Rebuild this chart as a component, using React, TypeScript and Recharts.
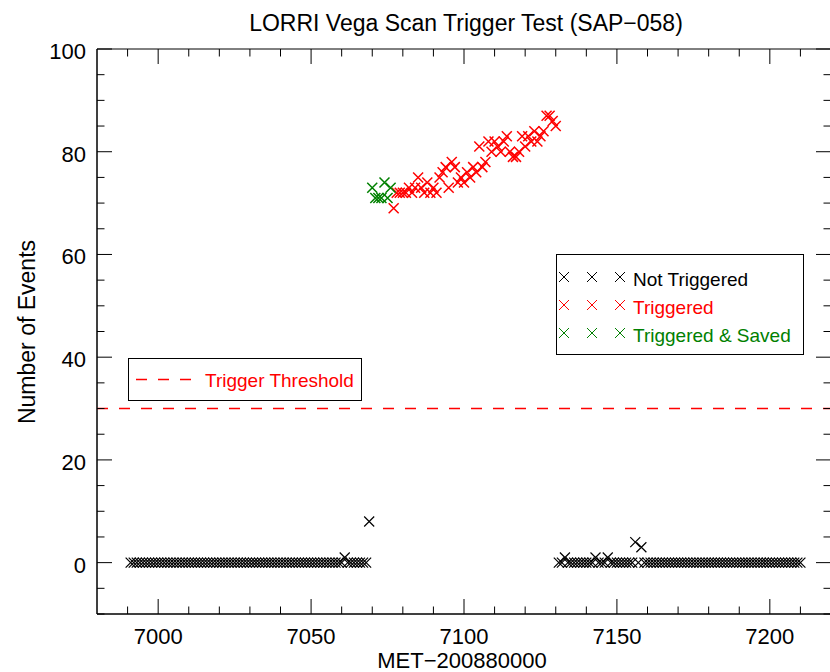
import React from "react";
import { ScatterChart, Scatter, XAxis, YAxis, ReferenceLine, ReferenceArea } from "recharts";

// MET-200880000 (s) and event counts
const notTrigTimes = [
  6991, 6992, 6993, 6994, 6995, 6996, 6997, 6998, 6999, 7000,
  7001, 7002, 7003, 7004, 7005, 7006, 7007, 7008, 7009, 7010,
  7011, 7012, 7013, 7014, 7015, 7016, 7017, 7018, 7019, 7020,
  7021, 7022, 7023, 7024, 7025, 7026, 7027, 7028, 7029, 7030,
  7031, 7032, 7033, 7034, 7035, 7036, 7037, 7038, 7039, 7040,
  7041, 7042, 7043, 7044, 7045, 7046, 7047, 7048, 7049, 7050,
  7051, 7052, 7053, 7054, 7055, 7056, 7057, 7058, 7059, 7060,
  7061, 7062, 7063, 7064, 7065, 7066, 7067, 7068, 7069,
  7131, 7132, 7133, 7134, 7135, 7136, 7137, 7138, 7139, 7140,
  7141, 7142, 7143, 7144, 7145, 7146, 7147, 7148, 7149, 7150,
  7151, 7152, 7153, 7154, 7155, 7156, 7157, 7158, 7159, 7160,
  7161, 7162, 7163, 7164, 7165, 7166, 7167, 7168, 7169, 7170,
  7171, 7172, 7173, 7174, 7175, 7176, 7177, 7178, 7179, 7180,
  7181, 7182, 7183, 7184, 7185, 7186, 7187, 7188, 7189, 7190,
  7191, 7192, 7193, 7194, 7195, 7196, 7197, 7198, 7199, 7200,
  7201, 7202, 7203, 7204, 7205, 7206, 7207, 7208, 7209, 7210,
];
const notTrigCounts = [
  0, 0, 0, 0, 0, 0, 0, 0, 0, 0,
  0, 0, 0, 0, 0, 0, 0, 0, 0, 0,
  0, 0, 0, 0, 0, 0, 0, 0, 0, 0,
  0, 0, 0, 0, 0, 0, 0, 0, 0, 0,
  0, 0, 0, 0, 0, 0, 0, 0, 0, 0,
  0, 0, 0, 0, 0, 0, 0, 0, 0, 0,
  0, 0, 0, 0, 0, 0, 0, 0, 0, 0,
  1, 0, 0, 0, 0, 0, 0, 0, 8,
  0, 0, 1, 0, 0, 0, 0, 0, 0, 0,
  0, 0, 1, 0, 0, 0, 1, 0, 0, 0,
  0, 0, 0, 0, 0, 4, 0, 3, 0, 0,
  0, 0, 0, 0, 0, 0, 0, 0, 0, 0,
  0, 0, 0, 0, 0, 0, 0, 0, 0, 0,
  0, 0, 0, 0, 0, 0, 0, 0, 0, 0,
  0, 0, 0, 0, 0, 0, 0, 0, 0, 0,
  0, 0, 0, 0, 0, 0, 0, 0, 0, 0,
];

const savedTimes = [7070, 7071, 7072, 7073, 7074, 7075, 7076];
const savedCounts = [73, 71, 71, 71, 74, 71, 73];

const trigTimes = [
  7077, 7078, 7079, 7080, 7081, 7082, 7083, 7084, 7085, 7086,
  7087, 7088, 7089, 7090, 7091, 7092, 7093, 7094, 7095, 7096,
  7097, 7098, 7099, 7100, 7101, 7102, 7103, 7104, 7105, 7106,
  7107, 7108, 7109, 7110, 7111, 7112, 7113, 7114, 7115, 7116,
  7117, 7118, 7119, 7120, 7121, 7122, 7123, 7124, 7125, 7126,
  7127, 7128, 7129, 7130,
];
const trigCounts = [
  69, 72, 72, 72, 72, 73, 72, 73, 75, 73,
  72, 74, 72, 73, 72, 75, 76, 77, 73, 78,
  77, 74, 75, 74, 76, 75, 77, 76, 81, 77,
  78, 82, 80, 82, 81, 80, 82, 83, 80, 79,
  79, 80, 83, 81, 83, 82, 84, 82, 83, 84,
  87, 87, 86, 85,
];

const threshold = 30;
const xTicks = [6990, 7000, 7010, 7020, 7030, 7040, 7050, 7060, 7070, 7080, 7090, 7100,
  7110, 7120, 7130, 7140, 7150, 7160, 7170, 7180, 7190, 7200, 7210];
const yTicks = [-10, -5, 0, 5, 10, 15, 20, 25, 30, 35, 40, 45, 50, 55, 60, 65, 70, 75, 80, 85, 90, 95, 100];

const FONT = "'Liberation Sans', Arial, Helvetica, sans-serif";
const PLOT_W = 734;
const PLOT_H = 565;
const RED = "#ff0000";
const GREEN = "#008000";

const toPoints = (ts: number[], ns: number[]) => ts.map((t, i) => ({ t, n: ns[i] }));

const cross = (color: string, sw: number) => (props: any) => {
  const { cx, cy } = props;
  const r = 5;
  return (
    <path
      d={`M${cx - r},${cy - r}L${cx + r},${cy + r}M${cx - r},${cy + r}L${cx + r},${cy - r}`}
      stroke={color}
      strokeWidth={sw}
      fill="none"
    />
  );
};

const XTick = (props: any) => {
  const { x, y, payload } = props;
  const v = payload.value;
  const major = v % 50 === 0;
  const len = major ? 15 : 7.5;
  return (
    <g>
      <line x1={x} x2={x} y1={y} y2={y - len} stroke="#000" />
      <line x1={x} x2={x} y1={y - PLOT_H} y2={y - PLOT_H + len} stroke="#000" />
      {major && (
        <text x={x} y={y + 30} textAnchor="middle" fontSize={22} fontFamily={FONT} fill="#000">
          {v}
        </text>
      )}
    </g>
  );
};

const YTick = (props: any) => {
  const { x, y, payload } = props;
  const v = payload.value;
  const major = v % 20 === 0;
  const len = major ? 15 : 7.5;
  return (
    <g>
      <line x1={x} x2={x + len} y1={y} y2={y} stroke="#000" />
      <line x1={x + PLOT_W} x2={x + PLOT_W - len} y1={y} y2={y} stroke="#000" />
      {major && v >= 0 && (
        <text x={x - 11} y={y + 10} textAnchor="end" fontSize={22} fontFamily={FONT} fill="#000">
          {v}
        </text>
      )}
    </g>
  );
};

const legendCross = (x: number, y: number, color: string) => (
  <path
    key={`${x}-${y}`}
    d={`M${x - 5},${y - 5}L${x + 5},${y + 5}M${x - 5},${y + 5}L${x + 5},${y - 5}`}
    stroke={color}
    strokeWidth={1}
    fill="none"
  />
);

export default function App() {
  const legendRows = [
    { label: "Not Triggered", color: "#000", y: 277 },
    { label: "Triggered", color: RED, y: 305 },
    { label: "Triggered & Saved", color: GREEN, y: 333 },
  ];
  return (
    <div style={{ position: "absolute", left: 0, top: 0, width: 830, height: 672, overflow: "hidden", background: "#fff" }}>
      <ScatterChart width={832} height={672} margin={{ top: 49, right: 1, bottom: 57, left: 96 }}>
        <XAxis
          type="number"
          dataKey="t"
          domain={[6980, 7220]}
          ticks={xTicks}
          interval={0}
          height={1}
          tickSize={0}
          tickMargin={0}
          tickLine={false}
          axisLine={{ stroke: "#000" }}
          tick={XTick}
          allowDataOverflow
        />
        <YAxis
          type="number"
          dataKey="n"
          domain={[-10, 100]}
          ticks={yTicks}
          interval={0}
          width={1}
          tickSize={0}
          tickMargin={0}
          tickLine={false}
          axisLine={{ stroke: "#000" }}
          tick={YTick}
          allowDataOverflow
        />
        <ReferenceArea x1={6980} x2={7220} y1={-10} y2={100} fill="none" stroke="#000" ifOverflow="visible" />
        <ReferenceLine y={threshold} stroke={RED} strokeWidth={1.5} strokeDasharray="11 11" />
        <Scatter data={toPoints(notTrigTimes, notTrigCounts)} shape={cross("#000", 1.2)} isAnimationActive={false} />
        <Scatter data={toPoints(trigTimes, trigCounts)} shape={cross(RED, 1.5)} isAnimationActive={false} />
        <Scatter data={toPoints(savedTimes, savedCounts)} shape={cross(GREEN, 1.5)} isAnimationActive={false} />
      </ScatterChart>
      <svg width={830} height={672} style={{ position: "absolute", left: 0, top: 0, pointerEvents: "none" }}>
        <text x={466} y={31} textAnchor="middle" fontSize={23} fontFamily={FONT} fill="#000">
          LORRI Vega Scan Trigger Test (SAP−058)
        </text>
        <text x={462} y={668} textAnchor="middle" fontSize={22} fontFamily={FONT} fill="#000">
          MET−200880000
        </text>
        <text
          x={0}
          y={0}
          transform="translate(35,332) rotate(-90)"
          textAnchor="middle"
          fontSize={23}
          fontFamily={FONT}
          fill="#000"
        >
          Number of Events
        </text>
        {/* threshold legend */}
        <rect x={128.5} y={358.5} width={233} height={42} fill="#fff" stroke="#000" />
        <line x1={136} x2={192} y1={379.5} y2={379.5} stroke={RED} strokeWidth={1.5} strokeDasharray="11 11" />
        <text x={205} y={387} fontSize={19} fontFamily={FONT} fill={RED}>
          Trigger Threshold
        </text>
        {/* symbol legend */}
        <rect x={556.5} y={254.5} width={247} height={100} fill="#fff" stroke="#000" />
        {legendRows.map((r) => (
          <g key={r.label}>
            {legendCross(564, r.y, r.color)}
            {legendCross(592, r.y, r.color)}
            {legendCross(620, r.y, r.color)}
            <text x={633} y={r.y + 8.5} fontSize={19} fontFamily={FONT} fill={r.color}>
              {r.label}
            </text>
          </g>
        ))}
      </svg>
    </div>
  );
}
